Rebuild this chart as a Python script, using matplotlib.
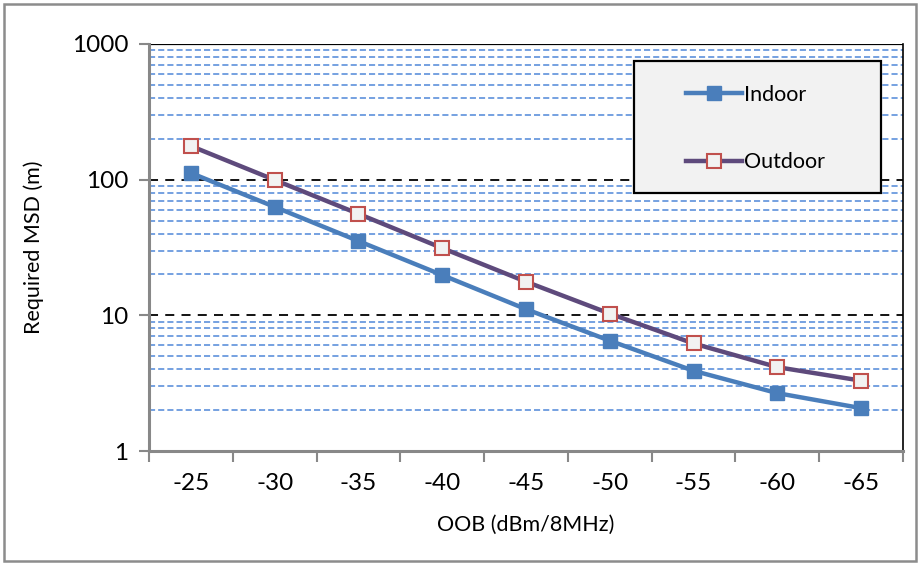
import matplotlib
matplotlib.use("Agg")
import matplotlib.pyplot as plt
from matplotlib.patches import Rectangle
from matplotlib.lines import Line2D

# Potencias fuera de banda y distancias mínimas requeridas
oob_labels = ["-25", "-30", "-35", "-40", "-45", "-50", "-55", "-60", "-65"]
indoor_msd = [112, 63, 35.3, 19.8, 11.1, 6.5, 3.9, 2.67, 2.07]
outdoor_msd = [177, 99.5, 56, 31.3, 17.7, 10.3, 6.2, 4.15, 3.3]

plt.rcParams['font.family'] = ['Lato', 'DejaVu Sans']

fig = plt.figure(figsize=(9.2, 5.63), dpi=100)
ax = fig.add_axes([149 / 920, 1 - 451 / 563, 754 / 920, 407 / 563])

x = list(range(len(oob_labels)))

# Rejilla: menores en azul discontinuo, décadas en negro discontinuo
for dec in [1, 10, 100]:
    for m in range(2, 10):
        ax.axhline(dec * m, color="#4f88d8", linestyle=(0, (4, 2)), linewidth=1.1, zorder=1)
for dec in [10, 100]:
    ax.axhline(dec, color="black", linestyle=(0, (5, 4)), linewidth=1.3, zorder=1)
ax.axhline(1000, color="black", linestyle="-", linewidth=1.6, zorder=1)

ax.plot(x, indoor_msd, color="#4a7ebb", linewidth=3.2, marker="s", markersize=10.5,
        markerfacecolor="#4a7ebb", markeredgecolor="#4a7ebb", zorder=3, label="Indoor")
ax.plot(x, outdoor_msd, color="#5e4a7c", linewidth=3.2, marker="s", markersize=10,
        markerfacecolor="#f2f2f2", markeredgecolor="#c0504d", markeredgewidth=1.5,
        zorder=3, label="Outdoor")

ax.set_yscale("log")
ax.set_ylim(1, 1000)
ax.set_xlim(-0.5, len(oob_labels) - 0.5)

ax.set_yticks([1, 10, 100, 1000])
ax.set_yticklabels(["1", "10", "100", "1000"])
ax.yaxis.set_minor_locator(matplotlib.ticker.NullLocator())
ax.set_xticks([i + 0.5 for i in range(-1, len(oob_labels))])
ax.set_xticklabels([])
ax.set_xticks(x, minor=True)
ax.set_xticklabels(oob_labels, minor=True)

ax.tick_params(axis="y", which="major", length=7, width=1.5, color="#888888",
               labelsize=17.5, pad=8)
ax.tick_params(axis="x", which="major", length=8, width=1.5, color="#888888",
               direction="out")
ax.tick_params(axis="x", which="minor", length=0, labelsize=17.5, pad=16)

for side in ["left", "bottom"]:
    ax.spines[side].set_color("#888888")
    ax.spines[side].set_linewidth(2.2)
ax.spines["right"].set_color("black")
ax.spines["right"].set_linewidth(1.2)
ax.spines["top"].set_visible(False)

ax.set_ylabel("Required MSD (m)", fontsize=15.5, labelpad=20)
ax.set_xlabel("OOB (dBm/8MHz)", fontsize=15.5, labelpad=15)

# Cuadro de leyenda gris con borde negro
ax.add_patch(Rectangle((0.643, 0.634), 0.328, 0.324, transform=ax.transAxes,
                       facecolor="#f2f2f2", edgecolor="black", linewidth=1.6,
                       zorder=5))
handles = [
    Line2D([], [], color="#4a7ebb", linewidth=3.2, marker="s", markersize=10.5,
           markerfacecolor="#4a7ebb", markeredgecolor="#4a7ebb"),
    Line2D([], [], color="#5e4a7c", linewidth=3.2, marker="s", markersize=10,
           markerfacecolor="#f2f2f2", markeredgecolor="#c0504d", markeredgewidth=1.5),
]
leg = ax.legend(handles, ["Indoor", "Outdoor"], loc="center left",
                bbox_to_anchor=(0.712, 0.792), frameon=False, fontsize=15.5,
                handlelength=2.6, handletextpad=0.1, labelspacing=2.2,
                borderpad=0, borderaxespad=0)
leg.set_zorder(6)

# Marco exterior del gráfico
fig.add_artist(Rectangle((4 / 920, 2 / 563), 912 / 920, 557 / 563,
                         transform=fig.transFigure, fill=False,
                         edgecolor="#8c8c8c", linewidth=1.8))

fig.savefig("out.png", dpi=100)
